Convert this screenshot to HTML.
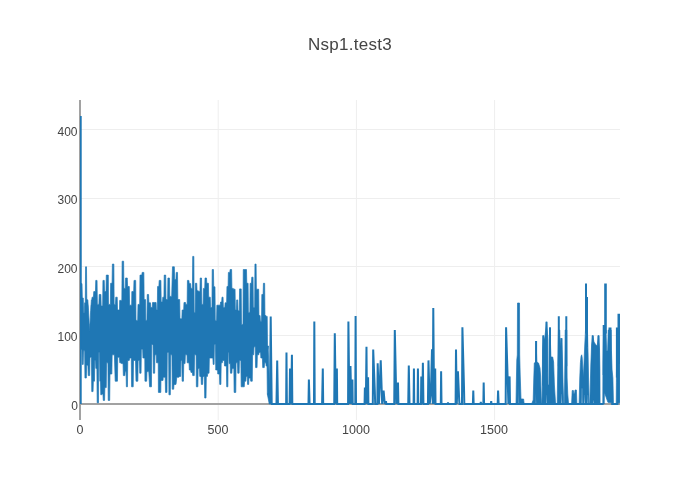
<!DOCTYPE html>
<html><head><meta charset="utf-8"><title>Nsp1.test3</title>
<style>
html,body{margin:0;padding:0;background:#fff;overflow:hidden}
svg{display:block}
text{font-family:"Liberation Sans",sans-serif;fill:#444}
</style></head><body>
<svg width="700" height="500" viewBox="0 0 700 500">
<rect width="700" height="500" fill="#fff"/>
<g stroke="#eee" stroke-width="1">
<line x1="218.2" y1="100" x2="218.2" y2="420"/>
<line x1="356.4" y1="100" x2="356.4" y2="420"/>
<line x1="494.6" y1="100" x2="494.6" y2="420"/>
<g shape-rendering="crispEdges">
<line x1="80" y1="335.5" x2="620" y2="335.5"/>
<line x1="80" y1="266.5" x2="620" y2="266.5"/>
<line x1="80" y1="198.5" x2="620" y2="198.5"/>
<line x1="80" y1="129.5" x2="620" y2="129.5"/>
</g></g>
<g stroke="#a2a2a2" stroke-width="2">
<line x1="80" y1="100" x2="80" y2="420"/>
<line x1="80" y1="404" x2="620" y2="404"/>
</g>
<clipPath id="c"><rect x="80" y="100" width="540" height="320"/></clipPath>
<g clip-path="url(#c)">
<path fill="#1f77b4" stroke="#1f77b4" stroke-width="0.7" stroke-linejoin="round" d="M80.40,290.00L80.87,283.60L82.01,283.60L82.31,298.00L83.29,298.00L83.59,312.40L84.33,312.40L84.63,302.80L85.29,302.80L85.59,266.80L86.49,266.80L86.79,299.60L87.37,299.60L87.67,299.92L87.85,299.92L88.15,305.20L88.25,305.20L88.55,310.80L88.57,310.80L88.87,317.20L88.89,317.20L89.19,323.60L89.25,323.60L89.55,330.80L89.65,330.80L89.95,323.60L90.01,323.60L90.31,317.20L90.33,317.20L90.63,310.80L90.65,310.80L90.95,305.20L91.05,305.20L91.35,299.92L91.77,299.92L92.07,297.20L93.45,297.20L93.75,291.60L95.45,291.60L95.75,280.40L97.05,280.40L97.35,304.40L98.89,304.40L99.19,294.48L100.89,294.48L101.19,306.00L102.65,306.00L102.95,280.40L104.25,280.40L104.55,291.60L106.01,291.60L106.31,275.12L108.32,275.12L108.48,304.40L110.33,304.40L110.63,283.28L112.09,283.28L112.39,264.08L113.85,264.08L114.15,304.40L115.45,304.40L115.75,297.20L117.21,297.20L117.51,310.00L119.52,310.00L119.68,300.40L121.85,300.40L122.15,261.20L123.61,261.20L123.91,288.40L125.29,288.40L125.59,278.00L127.29,278.00L127.59,286.48L129.29,286.48L129.59,305.20L131.68,305.20L131.83,291.60L133.69,291.60L133.99,280.40L135.69,280.40L135.99,320.40L137.69,320.40L137.99,304.40L139.69,304.40L139.99,275.12L141.85,275.12L142.15,272.40L143.85,272.40L144.15,299.60L145.53,299.60L145.83,320.40L146.97,320.40L147.27,294.48L148.57,294.48L148.87,302.80L150.49,302.80L150.79,307.60L152.25,307.60L152.55,302.48L154.25,302.48L154.40,302.48L156.09,302.48L156.39,310.00L157.29,310.00L157.59,286.48L158.89,286.48L159.19,280.40L160.89,280.40L161.19,302.00L162.49,302.00L162.79,297.20L163.93,297.20L164.23,275.12L165.69,275.12L165.99,299.60L167.61,299.60L167.91,278.00L169.45,278.00L169.75,296.40L171.68,296.40L172.48,266.80L174.33,266.80L174.63,279.60L175.93,279.60L176.23,272.40L177.53,272.40L177.83,299.60L179.68,299.60L180.00,318.80L181.85,318.80L182.15,310.00L183.69,310.00L183.99,302.48L185.53,302.48L185.83,304.40L187.13,304.40L187.43,280.40L188.89,280.40L189.19,283.60L190.65,283.60L190.95,288.40L192.41,288.40L192.71,256.40L193.85,256.40L194.15,312.40L195.13,312.40L195.43,283.28L196.73,283.28L197.03,290.80L198.33,290.80L198.63,291.60L199.93,291.60L200.23,278.00L201.53,278.00L201.83,304.40L203.13,304.40L203.43,288.40L204.73,288.40L205.03,278.00L206.49,278.00L206.79,283.28L208.41,283.28L208.71,297.20L210.25,297.20L210.55,307.60L211.93,307.60L212.23,269.52L213.45,269.52L213.75,286.80L214.97,286.80L215.27,320.40L216.57,320.40L216.87,305.20L218.41,305.20L218.71,305.20L220.25,305.20L220.55,302.00L221.69,302.00L221.99,297.20L223.05,297.20L223.35,307.60L224.81,307.60L225.11,302.80L226.65,302.80L226.95,286.48L228.09,286.48L228.39,272.40L229.85,272.40L230.15,269.52L231.61,269.52L231.91,288.40L233.29,288.40L233.59,289.20L235.05,289.20L235.35,310.00L236.41,310.00L236.71,299.92L237.69,299.92L237.99,310.80L239.29,310.80L239.59,288.88L241.21,288.88L241.51,324.40L242.97,324.40L243.27,269.52L244.81,269.52L245.11,269.52L246.49,269.52L246.79,283.28L248.09,283.28L248.39,312.40L249.85,312.40L250.15,283.28L251.45,283.28L251.75,277.20L253.05,277.20L253.35,307.60L254.65,307.60L254.95,264.08L256.09,264.08L256.39,289.20L257.29,289.20L257.59,289.20L258.65,289.20L258.95,315.60L260.09,315.60L260.39,321.20L261.53,321.20L261.83,294.48L263.13,294.48L263.43,283.28L264.65,283.28L264.95,315.60L266.01,315.60L266.31,316.40L267.21,316.40L267.51,346.00L268.57,346.00L268.30,350.00L270.00,404.00L269.30,404.00L267.30,394.00L268.25,394.00L267.35,394.00L267.05,366.00L266.15,366.00L265.85,362.80L264.55,362.80L264.25,367.60L262.71,367.60L262.41,358.00L260.87,358.00L260.57,352.40L259.11,352.40L258.81,354.80L257.35,354.80L257.05,367.60L255.59,367.60L255.29,346.80L253.99,346.80L253.69,354.80L252.55,354.80L252.25,381.20L250.71,381.20L250.41,378.00L248.95,378.00L248.65,384.40L247.59,384.40L247.29,376.40L246.15,376.40L245.85,381.20L244.55,381.20L244.25,386.80L242.95,386.80L242.65,386.80L241.19,386.80L240.89,360.40L239.43,360.40L239.13,373.20L237.75,373.20L237.45,362.80L236.07,362.80L235.77,392.40L234.15,392.40L233.85,368.40L232.15,368.40L231.85,373.20L230.47,373.20L230.17,363.60L229.11,363.60L228.81,352.40L228.15,352.40L227.85,386.80L226.71,386.80L226.41,366.00L224.55,366.00L224.25,360.40L222.63,360.40L222.33,362.80L221.19,362.80L220.89,384.40L219.75,384.40L219.45,374.00L217.75,374.00L217.60,370.00L215.75,370.00L215.45,344.40L214.39,344.40L214.09,364.40L213.19,364.40L212.89,358.00L211.20,358.00L211.05,358.00L209.35,358.00L209.05,373.20L207.75,373.20L207.45,376.40L206.31,376.40L206.01,398.00L204.71,398.00L204.41,376.40L202.95,376.40L202.65,384.40L201.35,384.40L201.05,376.40L199.75,376.40L199.45,368.40L198.15,368.40L197.85,386.80L196.39,386.80L196.09,354.80L194.55,354.80L194.25,375.60L192.71,375.60L192.41,372.40L190.95,372.40L190.65,370.00L189.35,370.00L189.05,362.80L187.20,362.80L187.05,354.80L185.35,354.80L185.05,363.60L183.75,363.60L183.45,381.20L182.15,381.20L181.85,360.40L180.95,360.40L180.65,376.40L179.20,376.40L179.05,377.20L176.80,377.20L176.00,384.40L173.99,384.40L173.69,389.20L172.23,389.20L171.93,354.80L170.63,354.80L170.33,394.80L168.95,394.80L168.65,352.40L167.27,352.40L166.97,392.40L165.51,392.40L165.21,377.20L163.20,377.20L163.05,380.40L160.95,380.40L160.80,392.40L158.40,392.40L158.25,362.80L156.55,362.80L156.25,354.80L154.95,354.80L154.65,373.20L153.35,373.20L153.05,344.40L151.75,344.40L151.45,386.80L149.60,386.80L148.80,371.60L146.95,371.60L146.65,381.20L144.95,381.20L144.80,358.00L142.95,358.00L142.65,349.20L141.35,349.20L141.05,373.20L139.75,373.20L139.45,360.40L138.15,360.40L137.85,381.20L136.00,381.20L135.52,360.40L133.51,360.40L133.21,386.80L131.59,386.80L131.29,358.00L129.59,358.00L129.29,360.40L127.75,360.40L127.45,386.80L126.39,386.80L126.09,371.60L125.19,371.60L124.89,375.60L123.35,375.60L123.05,363.60L121.35,363.60L121.05,362.80L119.75,362.80L119.45,357.20L117.75,357.20L117.45,381.20L115.20,381.20L114.40,354.80L112.15,354.80L111.85,374.00L109.99,374.00L109.69,400.40L108.23,400.40L107.93,362.80L106.55,362.80L106.25,387.60L104.87,387.60L104.57,400.40L103.27,400.40L102.97,394.00L101.91,394.00L101.61,394.80L100.79,394.80L100.49,381.20L99.83,381.20L99.53,352.40L98.79,352.40L98.49,402.80L97.19,402.80L96.89,368.40L95.83,368.40L95.53,360.40L94.79,360.40L94.49,381.20L93.35,381.20L93.05,391.60L91.75,391.60L91.45,357.20L89.99,357.20L89.69,375.60L88.23,375.60L87.93,365.20L86.63,365.20L86.33,378.00L84.95,378.00L84.65,350.80L83.51,350.80L83.21,364.40L82.31,364.40L82.01,349.20L80.87,349.20L80.40,350.00ZM516.00,404.00L516.40,380.00L516.80,360.00L517.30,355.00L517.50,303.00L519.50,303.00L519.70,355.00L520.20,375.00L521.00,399.00L523.60,399.00L524.20,404.00L524.20,404.00L519.10,404.00L518.70,385.00L518.30,404.00L516.00,404.00ZM531.60,404.00L533.20,400.00L533.80,378.00L534.30,363.00L535.50,362.00L536.10,341.00L536.80,362.00L538.50,363.00L540.00,368.00L540.60,376.00L541.20,397.00L541.60,404.00L541.60,404.00L536.20,404.00L535.80,393.00L535.40,404.00L531.60,404.00ZM542.00,404.00L542.60,350.00L543.30,335.40L544.60,340.00L546.50,321.80L547.70,336.00L548.00,385.00L548.90,385.00L549.20,340.00L550.00,327.40L550.90,357.00L552.70,357.00L553.60,362.00L554.40,385.00L555.60,404.00L555.60,404.00L547.00,404.00L546.70,395.00L546.30,395.00L546.00,404.00L542.00,404.00ZM557.20,403.92L557.84,362.00L558.48,330.00L559.76,330.00L560.08,346.00L560.56,342.80L561.20,338.00L562.00,349.20L562.48,362.00L563.12,386.00L563.76,403.92L563.76,403.92L562.16,403.92L561.84,394.00L561.36,394.00L561.04,403.92L557.20,403.92ZM564.40,403.92L564.88,362.00L565.20,330.00L566.80,330.00L567.12,378.00L567.76,394.00L568.56,403.92L568.56,404.00L564.40,404.00ZM571.60,404.00L572.20,390.50L573.40,390.50L573.80,393.50L574.60,393.50L575.00,390.00L576.40,390.00L576.90,404.00L576.90,404.00L571.60,404.00ZM579.12,403.92L579.76,378.00L580.40,362.80L581.04,356.40L581.68,354.80L582.16,357.20L583.44,378.00L584.24,357.20L584.72,346.00L585.52,330.00L587.44,330.00L588.08,354.00L588.56,378.00L589.20,403.92L589.20,403.92L588.56,403.92L588.24,395.60L587.60,395.60L587.28,403.92L585.04,403.92L584.72,395.60L584.24,395.60L583.92,403.92L582.64,403.92L582.32,388.40L581.68,388.40L581.36,403.92L579.12,403.92ZM589.80,404.00L590.80,365.00L591.60,345.00L592.70,335.40L594.00,342.00L595.60,344.40L597.20,346.00L598.50,335.40L599.50,349.00L599.90,370.00L600.10,404.00L600.88,403.92L594.00,403.92L593.68,400.40L593.20,400.40L592.88,403.92L589.52,403.92ZM602.80,403.92L602.96,362.00L603.44,339.60L603.76,330.00L606.00,330.00L606.64,350.80L607.60,350.80L608.24,330.00L611.12,330.00L611.44,350.80L612.08,370.00L612.88,378.00L613.44,402.80L613.44,403.28L607.92,402.32L604.40,392.40L604.24,403.92L602.80,403.92ZM616.24,403.28L616.40,382.80L616.56,362.00L616.72,330.00L619.92,330.00L619.92,392.40L619.92,402.80L616.24,403.28Z"/>
<path fill="none" stroke="#1f77b4" stroke-width="2" d="M536.10,341.00V391.00M543.30,335.40V385.40M546.50,321.80V371.80M550.00,327.40V377.40M558.80,316.20V366.20M561.50,338.30V388.30M566.30,316.20V366.20M586.00,283.40V333.40M587.00,297.00V347.00M592.70,335.40V385.40M598.50,335.40V385.40M603.70,325.00V375.00M605.20,283.40V333.40M605.80,283.40V333.40M609.50,327.40V377.40M610.50,327.40V377.40M616.90,327.40V377.40M618.50,313.80V363.80M619.00,313.80V363.80"/>
<path fill="none" stroke="#1f77b4" stroke-width="2" stroke-miterlimit="2" d="M80.70,404.00L80.70,116.10L80.75,300.00M269.90,404.00L270.70,316.40L271.70,404.00L276.48,404.00L277.20,360.40L277.92,404.00L286.16,404.00L286.48,352.40L286.88,404.00L289.60,404.00L290.00,368.40L291.12,404.00L291.92,354.80L292.32,404.00L308.48,404.00L308.88,379.60L309.60,404.00L314.00,404.00L314.32,321.60L314.72,404.00L322.08,404.00L322.80,368.40L323.20,404.00L334.24,404.00L334.80,333.20L335.76,404.00L336.88,368.40L337.20,404.00L348.08,404.00L348.40,321.60L349.36,404.00L350.48,366.00L351.28,404.00L352.40,379.60L352.72,404.00L355.28,404.00L355.60,316.00L356.00,404.00L364.56,404.00L364.88,387.60L365.84,404.00L366.48,346.80L366.96,404.00L368.08,377.20L368.40,404.00L372.80,404.00L373.20,349.52L374.80,390.80L375.20,404.00L377.36,404.00L377.68,363.28L378.96,404.00L380.72,360.40L382.16,404.00L383.60,390.48L384.80,404.00L386.00,401.20L386.32,404.00L394.24,404.00L394.80,330.00L396.40,404.00L398.00,382.48L398.40,404.00L408.24,404.00L408.80,365.52L409.52,404.00L413.60,404.00L413.92,368.40L414.24,404.00L417.60,404.00L417.92,368.40L418.32,404.00L420.96,404.00L421.28,376.40L422.24,404.00L422.88,362.80L423.44,404.00L427.92,404.00L428.48,360.40L429.68,404.00L430.88,394.00L432.00,349.20L432.80,404.00L433.28,308.00L434.08,404.00L435.20,368.40L435.52,404.00L440.80,404.00L441.12,371.28L441.52,404.00L447.68,404.00L448.00,402.32L448.32,404.00L455.60,404.00L456.00,349.52L456.80,404.00L457.92,371.28L459.20,400.40L459.52,404.00L462.00,404.00L462.40,327.20L464.00,387.60L464.32,404.00L472.88,404.00L473.28,390.48L473.68,404.00L480.48,404.00L480.80,402.00L481.12,404.00L483.36,404.00L483.68,382.48L484.08,404.00L490.88,404.00L491.20,401.20L491.52,404.00L497.68,404.00L498.08,390.48L498.64,404.00L505.68,404.00L506.08,327.20L507.20,363.60L508.40,404.00L509.60,376.40L510.00,404.00L516.00,404.00L524.20,404.00L531.60,404.00L541.60,404.00L542.00,404.00L555.60,404.00L557.20,404.00L563.76,404.00L564.40,404.00L568.56,404.00L571.60,404.00L576.90,404.00L579.12,404.00L589.20,404.00L589.80,404.00L600.10,404.00L603.50,404.00M611.20,404.00L618.40,404.00"/>
</g>
<g font-size="12" text-anchor="end">
<text x="78" y="410">0</text>
<text x="77.5" y="340.5">100</text>
<text x="77.5" y="273">200</text>
<text x="77.5" y="203.5">300</text>
<text x="77.5" y="136">400</text>
</g>
<g font-size="12.5" text-anchor="middle">
<text x="80" y="434.4">0</text>
<text x="218" y="434.4">500</text>
<text x="356" y="434.4">1000</text>
<text x="494" y="434.4">1500</text>
</g>
<text x="349.9" y="50.1" font-size="17" letter-spacing="0.27" text-anchor="middle">Nsp1.test3</text>
</svg>
</body></html>
